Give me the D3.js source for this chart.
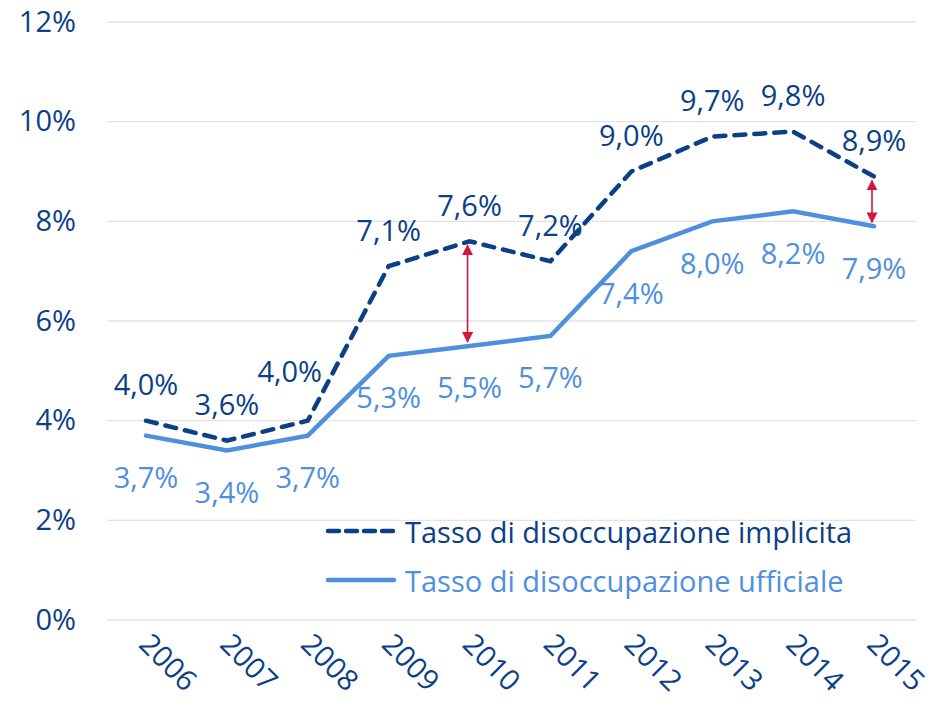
<!DOCTYPE html>
<html>
<head>
<meta charset="utf-8">
<script src="https://cdn.jsdelivr.net/npm/d3@7"></script>
<style>
  body { margin: 0; background: #fff; }
  text { font-family: "Open Sans", Lato, sans-serif; }
</style>
</head>
<body>
<div id="root"></div>
<script>
const years = [2006, 2007, 2008, 2009, 2010, 2011, 2012, 2013, 2014, 2015];
const implicita = [4.0, 3.6, 4.0, 7.1, 7.6, 7.2, 9.0, 9.7, 9.8, 8.9];
const ufficiale = [3.7, 3.4, 3.7, 5.3, 5.5, 5.7, 7.4, 8.0, 8.2, 7.9];
const yTicks = [0, 2, 4, 6, 8, 10, 12];
const arrowYears = [2010, 2015];
const seriesNames = ["Tasso di disoccupazione implicita", "Tasso di disoccupazione ufficiale"];

const width = 934;
const height = 713;
const dark = "#0b3f86";
const light = "#4f90dc";
const red = "#d9143c";
const fontSize = "29px";

const x = d3.scalePoint().domain(years).range([146, 874]);
const y = d3.scaleLinear().domain([0, 12]).range([620, 22]);

const svg = d3.select("#root").append("svg")
  .attr("width", width)
  .attr("height", height);

// grid
svg.append("g")
  .selectAll("line")
  .data(yTicks)
  .join("line")
  .attr("x1", 107)
  .attr("x2", 916)
  .attr("y1", (d) => y(d))
  .attr("y2", (d) => y(d))
  .attr("stroke", "#e3e3e3")
  .attr("stroke-width", 1.3);

// y axis labels
const yAxis = d3.axisLeft(y).tickValues(yTicks).tickSize(0).tickPadding(0)
  .tickFormat((d) => d + "%");
svg.append("g")
  .attr("transform", "translate(76,0)")
  .call(yAxis)
  .call((g) => g.select(".domain").remove())
  .call((g) => g.selectAll("text")
    .attr("fill", dark)
    .style("font-size", fontSize));

// x axis labels
const xAxis = d3.axisBottom(x).tickSize(0).tickPadding(0);
svg.append("g")
  .attr("transform", "translate(0,646)")
  .call(xAxis)
  .call((g) => g.select(".domain").remove())
  .call((g) => g.selectAll("text")
    .attr("fill", dark)
    .attr("text-anchor", "start")
    .attr("dy", 0)
    .attr("y", 0)
    .attr("x", 0)
    .attr("transform", "translate(-9,0) rotate(45)")
    .style("font-size", fontSize));

const line = d3.line().x((d) => x(d[0])).y((d) => y(d[1]));

svg.append("path")
  .datum(years.map((yr, i) => [yr, ufficiale[i]]))
  .attr("d", line)
  .attr("fill", "none")
  .attr("stroke", light)
  .attr("stroke-width", 4.5)
  .attr("stroke-linecap", "round");

svg.append("path")
  .datum(years.map((yr, i) => [yr, implicita[i]]))
  .attr("d", line)
  .attr("fill", "none")
  .attr("stroke", dark)
  .attr("stroke-width", 4.5)
  .attr("stroke-dasharray", "11 9")
  .attr("stroke-linecap", "round");

// arrows
const defs = svg.append("defs");
defs.append("marker")
  .attr("id", "arr")
  .attr("viewBox", "0 0 10 10")
  .attr("refX", 9)
  .attr("refY", 5)
  .attr("markerWidth", 11)
  .attr("markerHeight", 11)
  .attr("markerUnits", "userSpaceOnUse")
  .attr("orient", "auto-start-reverse")
  .append("path")
  .attr("d", "M0,0 L10,5 L0,10 Z")
  .attr("fill", red);

svg.append("g")
  .selectAll("line")
  .data(arrowYears)
  .join("line")
  .attr("x1", (d) => x(d) - 2)
  .attr("x2", (d) => x(d) - 2)
  .attr("y1", (d) => y(implicita[years.indexOf(d)]) + 4)
  .attr("y2", (d) => y(ufficiale[years.indexOf(d)]) - 4)
  .attr("stroke", red)
  .attr("stroke-width", 1.6)
  .attr("marker-start", "url(#arr)")
  .attr("marker-end", "url(#arr)");

const fmt = (v) => v.toFixed(1).replace(".", ",") + "%";

// labels
svg.append("g")
  .selectAll("text")
  .data(years.map((yr, i) => ({ yr, v: implicita[i], i })))
  .join("text")
  .attr("x", (d) => x(d.yr) + (d.i === 2 ? -18 : 0))
  .attr("y", (d) => y(d.v) - (d.i === 2 ? 50 : 37))
  .attr("text-anchor", "middle")
  .attr("dominant-baseline", "central")
  .attr("fill", dark)
  .style("font-size", fontSize)
  .text((d) => fmt(d.v));

svg.append("g")
  .selectAll("text")
  .data(years.map((yr, i) => ({ yr, v: ufficiale[i], i })))
  .join("text")
  .attr("x", (d) => x(d.yr))
  .attr("y", (d) => y(d.v) + 41)
  .attr("text-anchor", "middle")
  .attr("dominant-baseline", "central")
  .attr("fill", light)
  .style("font-size", fontSize)
  .text((d) => fmt(d.v));

// legend
const legend = svg.append("g").attr("transform", "translate(328,531)");
legend.append("line")
  .attr("x1", 0).attr("x2", 66).attr("y1", 0).attr("y2", 0)
  .attr("stroke", dark).attr("stroke-width", 4.5)
  .attr("stroke-dasharray", "11 7").attr("stroke-linecap", "round");
legend.append("text")
  .attr("x", 77).attr("y", 0)
  .attr("dominant-baseline", "central")
  .attr("fill", dark)
  .style("font-size", fontSize)
  .text(seriesNames[0]);
legend.append("line")
  .attr("x1", 0).attr("x2", 66).attr("y1", 49).attr("y2", 49)
  .attr("stroke", light).attr("stroke-width", 4.5)
  .attr("stroke-linecap", "round");
legend.append("text")
  .attr("x", 77).attr("y", 49)
  .attr("dominant-baseline", "central")
  .attr("fill", light)
  .style("font-size", fontSize)
  .text(seriesNames[1]);
</script>
</body>
</html>
